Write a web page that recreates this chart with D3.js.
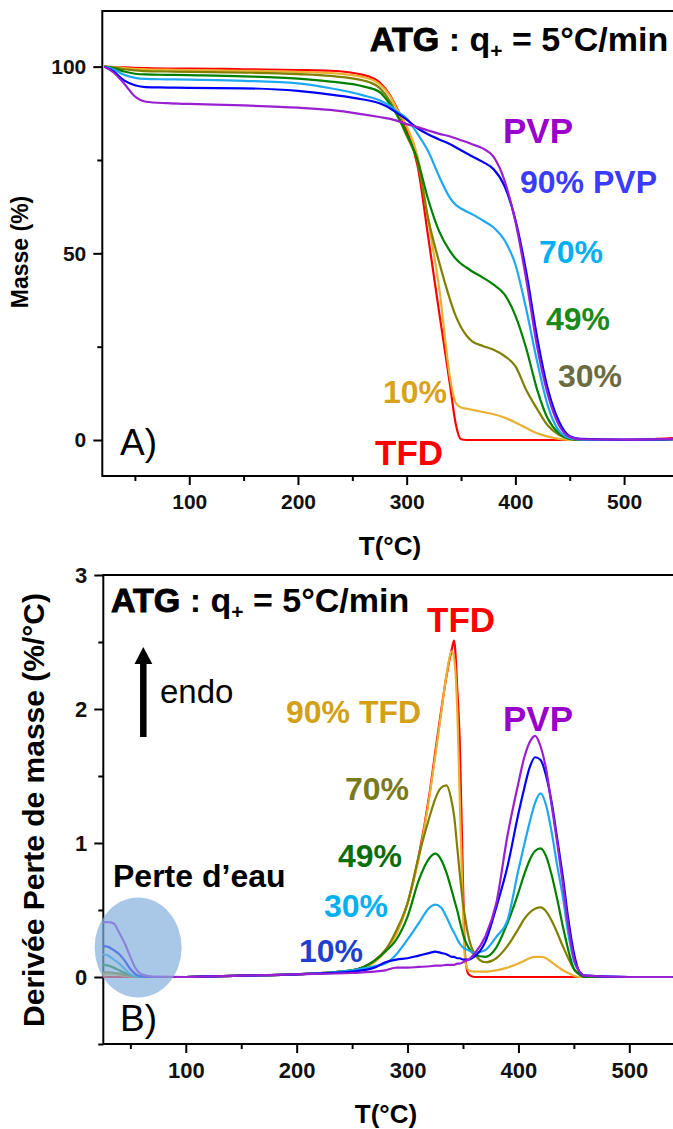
<!DOCTYPE html>
<html><head><meta charset="utf-8">
<script src="https://cdn.jsdelivr.net/npm/d3@7"></script>
<style>
html,body{margin:0;padding:0;background:#fff;}
svg{display:block;font-family:"Liberation Sans",Arial,sans-serif;}
</style></head>
<body>
<svg id="c" width="673" height="1129"></svg>
<script>
// ---------- Panel A : TGA mass (%) ----------
const tempsA = [22,30,40,50,60,80,100,150,200,230,260,275,285,290,300,310,320,330,340,345,350,355,360,370,380,390,400,410,420,430,440,450,460,500,545];
const massTFD  = [100,99.9,99.8,99.7,99.6,99.5,99.5,99.3,99.1,98.9,97.8,95.8,92.2,89.5,83.0,73.5,54.0,34.0,14.5,4.5,0.2,0,0,0,0,0,0,0,0,0,0,0,0,0,0.5];
const mass10   = [100,99.9,99.6,99.4,99.3,99.2,99.1,98.9,98.6,98.3,97.2,95.3,92.0,89.2,84.0,76.0,58.5,40.5,16.5,10.0,8.7,8.4,8.1,7.5,6.9,6.0,4.7,3.2,1.8,0.9,0.3,0,0,0,0.2];
const mass30   = [100,99.8,99.3,99.0,98.8,98.7,98.6,98.4,98.0,97.5,96.3,94.3,90.6,87.8,81.5,74.5,59.0,47.5,37.5,33.3,30.2,28.0,26.5,25.2,24.2,22.5,19.8,13.4,8.3,3.8,1.4,0.3,0,0,0.2];
const mass49   = [100,99.6,98.7,98.1,97.9,97.8,97.7,97.4,96.8,96.0,94.7,93.2,89.8,87.6,82.0,75.0,64.2,55.8,50.5,48.6,47.2,46.2,45.2,43.5,41.6,39.0,33.3,24.5,13.5,5.6,1.8,0.3,0,0,0.2];
const mass70   = [100,99.3,97.8,97.0,96.7,96.6,96.5,96.2,95.5,94.2,92.3,91.0,89.4,88.2,86.1,82.0,77.2,70.5,64.8,63.0,62.0,61.2,60.5,58.8,56.9,53.5,47.0,35.0,21.0,9.0,2.5,0.5,0.1,0,0.2];
const mass90   = [100,98.8,96.3,95.0,94.5,94.4,94.3,94.2,93.5,92.5,91.2,90.2,88.8,87.8,85.8,83.5,81.8,80.5,79.2,78.4,77.6,76.8,76.0,74.5,72.5,68.0,59.0,45.0,27.5,13.5,5.0,1.0,0.3,0.1,0.2];
const massPVP  = [100,98.5,95.5,92.0,90.6,90.2,90.0,89.6,89.0,88.4,87.2,86.5,86.0,85.6,84.6,83.8,82.9,82.0,81.3,80.8,80.3,79.8,79.2,78.1,75.8,69.5,58.5,43.0,25.0,12.0,4.0,0.8,0.2,0.1,0.3];
const ticksAx = [100,200,300,400,500];
const minorAx = [50,150,250,350,450];
const ticksAy = [0,50,100];
const minorAy = [25,75];

// ---------- Panel B : DTG (%/°C) ----------
const tempsB = [25,30,35,40,45,50,55,60,70,100,150,200,250,270,280,290,300,310,320,325,330,335,340,342,345,347,350,352,355,360,370,380,390,400,405,410,415,420,425,430,435,440,445,450,455,460,500,539];
const dtgTFD = [0,0,0,0,0,0,0,0,0,0,0.01,0.02,0.05,0.12,0.2,0.33,0.55,0.9,1.38,1.68,1.97,2.24,2.45,2.51,2.12,1.78,0.7,0.15,0.02,0,0,0,0,0,0,0,0,0,0,0,0,0,0,0,0,0,0,0];
const dtg90  = [0.02,0.02,0.02,0.015,0.01,0.005,0,0,0,0,0.01,0.02,0.05,0.11,0.19,0.32,0.55,0.88,1.36,1.65,1.95,2.25,2.43,2.38,1.95,1.35,0.5,0.12,0.05,0.04,0.04,0.05,0.07,0.1,0.12,0.14,0.15,0.15,0.14,0.11,0.08,0.05,0.03,0.01,0,0,0,0];
const dtg70  = [0.035,0.035,0.03,0.025,0.015,0.008,0.003,0,0,0,0.01,0.02,0.05,0.12,0.2,0.35,0.55,0.9,1.2,1.33,1.41,1.43,1.3,1.2,0.95,0.78,0.55,0.44,0.3,0.18,0.11,0.14,0.23,0.36,0.43,0.48,0.51,0.52,0.49,0.42,0.33,0.23,0.14,0.06,0.02,0,0,0];
const dtg49  = [0.09,0.085,0.07,0.05,0.03,0.015,0.005,0,0,0,0.01,0.02,0.05,0.12,0.19,0.28,0.45,0.72,0.89,0.92,0.88,0.78,0.64,0.58,0.49,0.42,0.32,0.27,0.22,0.17,0.15,0.22,0.4,0.63,0.76,0.87,0.94,0.96,0.9,0.76,0.58,0.38,0.2,0.06,0.02,0,0,0];
const dtg30  = [0.17,0.16,0.13,0.1,0.06,0.02,0.008,0.003,0,0,0.01,0.02,0.05,0.08,0.1,0.17,0.28,0.4,0.52,0.54,0.52,0.45,0.36,0.33,0.28,0.25,0.22,0.21,0.2,0.18,0.2,0.3,0.42,0.8,0.98,1.15,1.3,1.37,1.28,1.08,0.83,0.6,0.32,0.12,0.04,0.01,0,0];
const dtg10  = [0.23,0.225,0.2,0.17,0.12,0.06,0.02,0.005,0,0,0.01,0.02,0.04,0.07,0.11,0.13,0.14,0.16,0.18,0.19,0.18,0.17,0.15,0.15,0.14,0.14,0.13,0.13,0.13,0.15,0.26,0.52,0.82,1.22,1.4,1.56,1.64,1.62,1.5,1.3,1.03,0.75,0.43,0.18,0.04,0.01,0,0];
const dtgPVP = [0.41,0.41,0.4,0.33,0.25,0.15,0.06,0.02,0.003,0,0.01,0.02,0.03,0.04,0.05,0.07,0.07,0.075,0.08,0.085,0.085,0.09,0.09,0.09,0.1,0.1,0.11,0.12,0.13,0.17,0.3,0.55,1.05,1.45,1.63,1.75,1.8,1.72,1.55,1.28,1.0,0.7,0.38,0.14,0.04,0.01,0,0];
const ticksBx = [100,200,300,400,500];
const minorBx = [50,150,250,350,450];
const ticksBy = [0,1,2,3];
const minorBy = [-0.5,0.5,1.5,2.5];

const colors = {TFD:"#ff0000", p10:"#eab032", p30:"#808000", p49:"#008000", p70:"#1ea7f2", p90:"#0000ff", PVP:"#9a1fd0"};

const svg = d3.select("#c");
const FONT = '"Liberation Sans",Arial,sans-serif';

function drawPanel(cfg){
  const g = svg.append("g");
  const x = d3.scaleLinear().domain(cfg.xd).range(cfg.xr);
  const y = d3.scaleLinear().domain(cfg.yd).range(cfg.yr);
  g.append("rect").attr("x",cfg.xr[0]).attr("y",cfg.yr[1]).attr("width",cfg.xr[1]-cfg.xr[0]+5).attr("height",cfg.yr[0]-cfg.yr[1])
    .attr("fill","none").attr("stroke","#000").attr("stroke-width",2);
  const ax = g.append("g").attr("transform",`translate(0,${cfg.yr[0]})`)
    .call(d3.axisBottom(x).tickValues(cfg.tx).tickSize(9).tickPadding(9).tickFormat(d3.format("d")));
  const axm = g.append("g").attr("transform",`translate(0,${cfg.yr[0]})`)
    .call(d3.axisBottom(x).tickValues(cfg.mx).tickSize(5).tickFormat(""));
  const ay = g.append("g").attr("transform",`translate(${cfg.xr[0]},0)`)
    .call(d3.axisLeft(y).tickValues(cfg.ty).tickSize(9).tickPadding(7).tickFormat(d3.format("d")));
  const aym = g.append("g").attr("transform",`translate(${cfg.xr[0]},0)`)
    .call(d3.axisLeft(y).tickValues(cfg.my).tickSize(5).tickFormat(""));
  [ax,axm,ay,aym].forEach(a=>{
    a.select(".domain").remove();
    a.selectAll("line").attr("stroke","#000").attr("stroke-width",2);
    a.selectAll("text").attr("font-family",FONT).attr("font-weight","bold").attr("font-size",cfg.tickFs).attr("fill","#111");
  });
  const line = d3.line().x((d,i)=>x(cfg.t[i])).y(d=>y(d)).curve(d3.curveMonotoneX);
  cfg.series.forEach(s=>{
    g.append("path").datum(s.v).attr("d",line).attr("fill","none")
      .attr("stroke",s.c).attr("stroke-width",2.2).attr("stroke-linejoin","round");
  });
  return {g,x,y};
}

const A = drawPanel({
  xd:[20,545], xr:[102.3,673], yd:[-9.64,114.9], yr:[476,11],
  tx:ticksAx, mx:minorAx, ty:ticksAy, my:minorAy, tickFs:21, t:tempsA,
  series:[
    {v:massTFD,c:colors.TFD},{v:mass10,c:colors.p10},{v:mass30,c:colors.p30},
    {v:mass49,c:colors.p49},{v:mass70,c:colors.p70},{v:mass90,c:colors.p90},{v:massPVP,c:colors.PVP}
  ]
});
const B = drawPanel({
  xd:[25.6,539.4], xr:[103.3,673], yd:[-0.5,3], yr:[1044,575],
  tx:ticksBx, mx:minorBx, ty:ticksBy, my:minorBy, tickFs:22, t:tempsB,
  series:[
    {v:dtgTFD,c:colors.TFD},{v:dtg90,c:colors.p10},{v:dtg70,c:colors.p30},
    {v:dtg49,c:colors.p49},{v:dtg30,c:colors.p70},{v:dtg10,c:colors.p90},{v:dtgPVP,c:colors.PVP}
  ]
});

function txt(x,y,s,opt){
  const t = svg.append("text").attr("x",x).attr("y",y).text(s)
    .attr("font-family",FONT).attr("font-size",opt.fs).attr("font-weight",opt.fw||"bold")
    .attr("fill",opt.c||"#000");
  if(opt.anchor) t.attr("text-anchor",opt.anchor);
  if(opt.rot) t.attr("transform",`rotate(-90,${x},${y})`);
  return t;
}
function title(x,y){
  const t = svg.append("text").attr("x",x).attr("y",y).attr("font-family",FONT)
    .attr("font-weight","bold").attr("font-size",34).attr("fill","#000");
  t.append("tspan").text("ATG").attr("stroke","#000").attr("stroke-width",1);
  t.append("tspan").text(" : q");
  t.append("tspan").text("+").attr("font-size",21).attr("dy",7);
  t.append("tspan").text(" = 5°C/min").attr("dy",-7);
}

// Panel A text
title(370,51);
txt(28,252,"Masse (%)",{fs:23,anchor:"middle",rot:true});
txt(390,555,"T(°C)",{fs:26,anchor:"middle"});
txt(120,455,"A)",{fs:37,fw:"normal"});
txt(503,143,"PVP",{fs:35,c:"#9900cc"});
txt(520,193,"90% PVP",{fs:32,c:"#3b3bff"});
txt(539,263,"70%",{fs:32,c:"#00b0f0"});
txt(546,330,"49%",{fs:32,c:"#1a8a1a"});
txt(558,387,"30%",{fs:32,c:"#6b6b40"});
txt(383,403,"10%",{fs:32,c:"#d9a21b"});
txt(375,465,"TFD",{fs:35,c:"#ff0000"});

// Panel B text
title(111,612);
txt(44,810,"Derivée Perte de masse (%/°C)",{fs:30,anchor:"middle",rot:true});
txt(386,1123,"T(°C)",{fs:26,anchor:"middle"});
txt(120,1031,"B)",{fs:37,fw:"normal"});
txt(160,703,"endo",{fs:33,fw:"normal"});
txt(113,887,"Perte d’eau",{fs:32});
txt(427,632,"TFD",{fs:35,c:"#ff0000"});
txt(286,723,"90% TFD",{fs:32,c:"#d4a017"});
txt(503,731,"PVP",{fs:35,c:"#9900cc"});
txt(345,800,"70%",{fs:32,c:"#7a7a1a"});
txt(338,867,"49%",{fs:32,c:"#0a6e0a"});
txt(324,917,"30%",{fs:32,c:"#00b0f0"});
txt(299,962,"10%",{fs:32,c:"#1f3fd0"});

// endo arrow
svg.append("line").attr("x1",143.3).attr("x2",143.3).attr("y1",737).attr("y2",660)
  .attr("stroke","#000").attr("stroke-width",6.5);
svg.append("path").attr("d","M134.5,664 L143.3,647 L152.3,664 Z").attr("fill","#000");

// water-loss ellipse
svg.append("ellipse").attr("cx",B.x(57)).attr("cy",B.y(0.22)).attr("rx",43.5).attr("ry",50)
  .attr("fill","rgb(132,175,219)").attr("fill-opacity",0.7);
</script>
</body></html>
